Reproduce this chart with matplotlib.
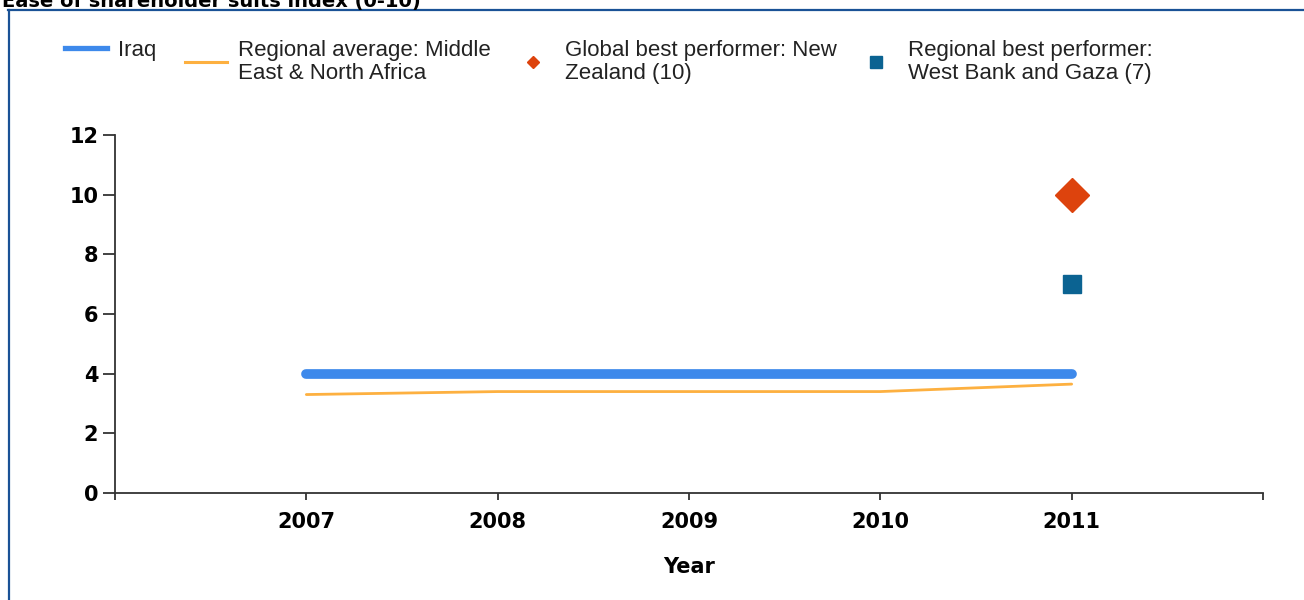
import matplotlib
matplotlib.use("Agg")
import matplotlib.pyplot as plt
from matplotlib.lines import Line2D

# ---- data ----
years = [2007, 2008, 2009, 2010, 2011]
iraq = [4, 4, 4, 4, 4]
regional_avg = [3.3, 3.4, 3.4, 3.4, 3.65]
global_best_year = [2011]
global_best_val = [10]
regional_best_year = [2011]
regional_best_val = [7]
y_ticks = [0, 2, 4, 6, 8, 10, 12]
x_ticks = [2006, 2007, 2008, 2009, 2010, 2011, 2012]
x_labels = ["", "2007", "2008", "2009", "2010", "2011", ""]

title = "Ease of shareholder suits index (0-10)"
labels = ["Iraq",
          "Regional average: Middle\nEast & North Africa",
          "Global best performer: New\nZealand (10)",
          "Regional best performer:\nWest Bank and Gaza (7)"]

C_IRAQ = "#3D89EB"
C_REG = "#FDB040"
C_GLOB = "#DD430D"
C_RBEST = "#0B6392"

W, H = 1304, 600
fig = plt.figure(figsize=(W / 100, H / 100), dpi=100)
fig.patch.set_facecolor("white")

ax = fig.add_axes([115 / W, 1 - 493 / H, (1263 - 115) / W, (493 - 135) / H])
ax.plot(years, regional_avg, color=C_REG, lw=2.0, solid_capstyle="round", zorder=2)
ax.plot(years, iraq, color=C_IRAQ, lw=7, solid_capstyle="round", zorder=3)
ax.plot(global_best_year, global_best_val, ls="none", marker="D", ms=17.5,
        color=C_GLOB, mec=C_GLOB, zorder=4)
ax.plot(regional_best_year, regional_best_val, ls="none", marker="s", ms=12.5,
        color=C_RBEST, mec=C_RBEST, zorder=4)

ax.set_xlim(2006, 2012)
ax.set_ylim(0, 12)
ax.set_xticks(x_ticks)
ax.set_xticklabels(x_labels)
ax.set_yticks(y_ticks)
for s in ["top", "right"]:
    ax.spines[s].set_visible(False)
for s in ["left", "bottom"]:
    ax.spines[s].set_color("#333333")
    ax.spines[s].set_linewidth(1.3)
ax.tick_params(axis="y", length=9, width=1.3, color="#333333", pad=3,
               labelsize=15)
ax.tick_params(axis="x", length=5, width=1.3, color="#333333", pad=9,
               labelsize=15)
for lab in ax.get_xticklabels() + ax.get_yticklabels():
    lab.set_fontweight("bold")
    lab.set_family("DejaVu Sans")
ax.set_xlabel("Year", fontsize=15, fontweight="bold", labelpad=18)

# title, partly cropped by the top edge (as in the reference)
fig.text(2 / W, 1 - 7 / H, title, fontsize=14, fontweight="bold",
         ha="left", va="baseline")

# blue frame
fig.add_artist(Line2D([8.5 / W, 8.5 / W], [1 - 10 / H, 0], color="#1A5296",
                      lw=1.6, transform=fig.transFigure))
fig.add_artist(Line2D([8 / W, 1303 / W], [1 - 9.5 / H, 1 - 9.5 / H],
                      color="#1A5296", lw=1.6, transform=fig.transFigure))

# legends
handles = [
    Line2D([], [], color=C_IRAQ, lw=3.8),
    Line2D([], [], color=C_REG, lw=2.2),
    Line2D([], [], ls="none", marker="D", ms=6, color=C_GLOB),
    Line2D([], [], ls="none", marker="s", ms=8, color=C_RBEST),
]
fs = 16
pad_px = 11
hl_px = 42
text_lefts = [118, 238, 565, 908]
for h, lab, tx in zip(handles, labels, text_lefts):
    lx = tx - pad_px - hl_px
    leg = fig.legend([h], [lab], loc="upper left",
                     bbox_to_anchor=(lx / W, 1 - 40 / H),
                     bbox_transform=fig.transFigure, frameon=False,
                     borderpad=0, borderaxespad=0,
                     handlelength=hl_px / (fs * 100 / 72),
                     handletextpad=pad_px / (fs * 100 / 72),
                     prop={"family": "Liberation Sans", "size": fs})
    for t in leg.get_texts():
        t.set_linespacing(1.12)
        t.set_color("#222222")

fig.savefig("out.png", dpi=100)
